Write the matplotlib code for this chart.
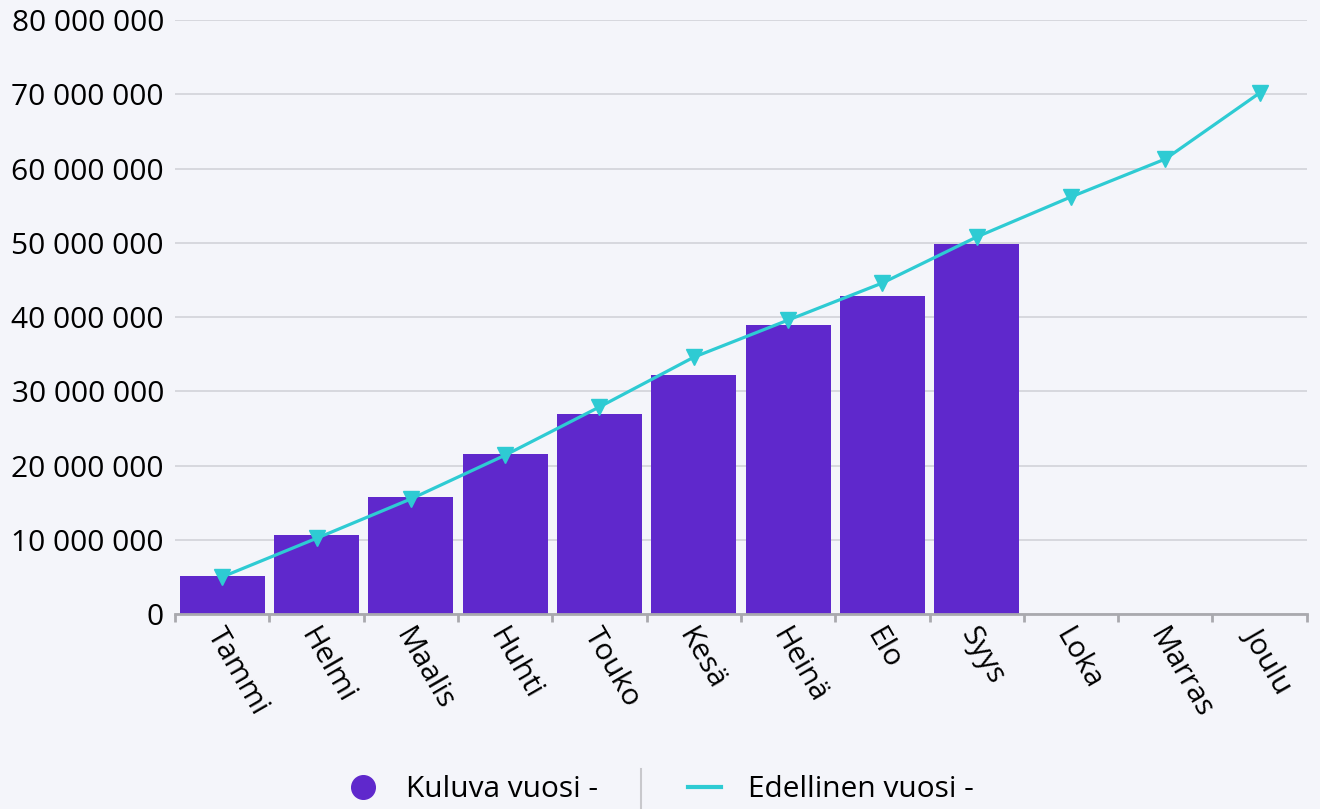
from matplotlib import pyplot as plt
from matplotlib.lines import Line2D
import numpy as np

months = ["Tammi", "Helmi", "Maalis", "Huhti", "Touko", "Kesä",
          "Heinä", "Elo", "Syys", "Loka", "Marras", "Joulu"]
current_year = [5.1e6, 10.6e6, 15.8e6, 21.5e6, 26.9e6, 32.2e6,
                38.9e6, 42.8e6, 49.9e6]
previous_year = [5.0e6, 10.2e6, 15.5e6, 21.4e6, 27.9e6, 34.6e6,
                 39.6e6, 44.6e6, 50.8e6, 56.2e6, 61.3e6, 70.2e6]
yticks = np.arange(0, 80_000_001, 10_000_000)

purple = "#5f28cc"
cyan = "#2ecbd3"
bg = "#f4f5fa"
fs = 21.5

plt.rcParams["font.family"] = ["Open Sans", "DejaVu Sans"]

fig = plt.figure(figsize=(13.2, 8.09), dpi=100, facecolor=bg)
ax = fig.add_axes([0.1326, 0.241, 0.8574, 0.734], facecolor=bg)

x = np.arange(len(months))
ax.bar(x[: len(current_year)], current_year, width=0.9, color=purple, zorder=2)
ax.plot(x, previous_year, color=cyan, lw=2.3, marker="v", markersize=11,
        zorder=3)

ax.set_xlim(-0.5, len(months) - 0.5)
ax.set_ylim(0, 80_000_000)
ax.set_yticks(yticks)
ax.set_yticklabels([f"{v:,.0f}".replace(",", " ") for v in yticks])
ax.grid(axis="y", color="#d2d3d9", lw=1.2, zorder=0)

# ticks sit at category boundaries
ax.set_xticks(np.arange(-0.5, len(months)), minor=False)
ax.set_xticklabels([])
ax.tick_params(axis="x", length=6, width=2, color="#a9a9ae", direction="out")
ax.tick_params(axis="y", length=0, labelsize=fs, pad=8)
for xi, name in zip(x, months):
    ax.text(xi - 0.1, -0.027, name, transform=ax.get_xaxis_transform(),
            rotation=-60, ha="left", va="center", rotation_mode="anchor",
            fontsize=fs)

for side in ["top", "right", "left"]:
    ax.spines[side].set_visible(False)
ax.spines["bottom"].set_color("#a9a9ae")
ax.spines["bottom"].set_linewidth(2)

handles = [
    Line2D([], [], ls="none", marker="o", markersize=17, color=purple),
    Line2D([], [], color=cyan, lw=3),
]
fig.legend(handles, ["Kuluva vuosi -", "Edellinen vuosi -"],
           loc="center", bbox_to_anchor=(0.5, 0.024), ncol=2, frameon=False,
           fontsize=fs, columnspacing=3.0, handlelength=1.1,
           handletextpad=0.9)
fig.add_artist(Line2D([0.4856, 0.4856], [0.0, 0.05], color="#c8c8cc", lw=1.5,
                      transform=fig.transFigure))

fig.savefig("out.png", dpi=100, facecolor=bg)
